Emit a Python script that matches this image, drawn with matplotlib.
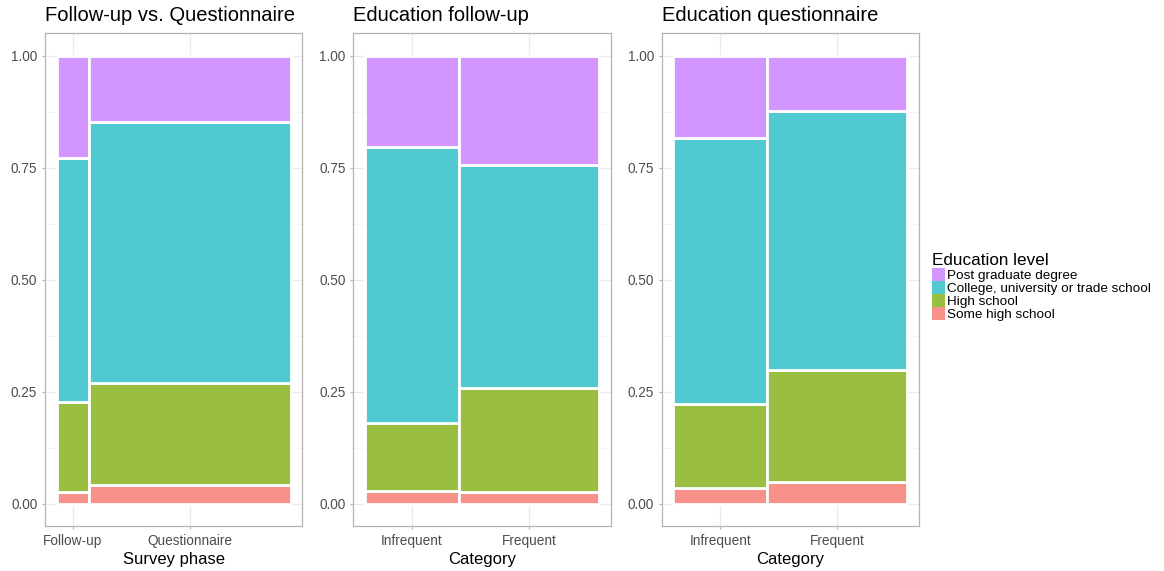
import numpy as np
import matplotlib
matplotlib.use("Agg")
import matplotlib.pyplot as plt
from matplotlib.patches import Rectangle

plt.rcParams["font.family"] = ["Liberation Sans", "DejaVu Sans"]

levels = ["Some high school", "High school",
          "College, university or trade school", "Post graduate degree"]
level_colors = ["#F8918A", "#9ABE40", "#50CAD0", "#D396FF"]

# panel 1: survey phase
phase_labels = ["Follow-up", "Questionnaire"]
phase_widths = [0.137, 0.863]
phase_props = [[0.027, 0.199, 0.546, 0.228],
               [0.042, 0.227, 0.584, 0.147]]

# panel 2: education at follow-up by category
fu_labels = ["Infrequent", "Frequent"]
fu_widths = [0.402, 0.598]
fu_props = [[0.028, 0.152, 0.617, 0.203],
            [0.026, 0.233, 0.498, 0.243]]

# panel 3: education at questionnaire by category
q_labels = ["Infrequent", "Frequent"]
q_widths = [0.40, 0.60]
q_props = [[0.034, 0.189, 0.594, 0.183],
           [0.048, 0.250, 0.578, 0.124]]

panels = [
    ("Follow-up vs. Questionnaire", "Survey phase", phase_labels, phase_widths, phase_props),
    ("Education follow-up", "Category", fu_labels, fu_widths, fu_props),
    ("Education questionnaire", "Category", q_labels, q_widths, q_props),
]

W, H = 1164, 571
fig = plt.figure(figsize=(W / 100, H / 100), dpi=100)
lefts = [45, 353.3, 661.7]
top, bottom_px = 33.3, 526.0
grid_c = "#EBEBEB"
border_c = "#B3B3B3"

for (title, xlabel, labels, widths, props), lx in zip(panels, lefts):
    ax = fig.add_axes([lx / W, (H - bottom_px) / H, 257.3 / W, (bottom_px - top) / H])
    x0 = np.concatenate([[0], np.cumsum(widths)[:-1]])
    centers = x0 + np.array(widths) / 2
    for j, (left, w) in enumerate(zip(x0, widths)):
        bottom = 0.0
        for k, p in enumerate(props[j]):
            ax.bar(left, p, width=w, bottom=bottom, align="edge",
                   color=level_colors[k], edgecolor="white",
                   linewidth=2.0, zorder=3)
            bottom += p
    ax.set_xlim(-0.05, 1.05)
    ax.set_ylim(-0.05, 1.05)
    ax.set_yticks([0, 0.25, 0.5, 0.75, 1.0])
    ax.set_yticklabels(["0.00", "0.25", "0.50", "0.75", "1.00"])
    ax.set_yticks([0.125, 0.375, 0.625, 0.875], minor=True)
    ax.set_xticks(centers)
    ax.set_xticklabels(labels)
    ax.grid(True, which="major", color=grid_c, lw=0.9, zorder=0)
    ax.grid(True, which="minor", axis="y", color="#F4F4F4", lw=0.6, zorder=0)
    ax.tick_params(which="major", direction="out", length=2.5, width=0.8,
                   color=border_c, labelcolor="#4D4D4D", labelsize=9.8, pad=3)
    ax.tick_params(which="minor", length=0)
    for s in ax.spines.values():
        s.set_color(border_c)
        s.set_linewidth(0.9)
    ax.set_xlabel(xlabel, fontsize=12, color="black", labelpad=3)
    ax.set_title(title, fontsize=14.5, loc="left", pad=9)

# legend drawn as figure-level keys and labels
fig.text(932 / W, (H - 265) / H, "Education level", fontsize=12.3,
         ha="left", va="baseline")
key_top, key_h, key_w = 268.3, 12.9, 13.3
for i, (lab, col) in enumerate(zip(levels[::-1], level_colors[::-1])):
    y0 = key_top + i * key_h
    fig.add_artist(Rectangle((932 / W, (H - y0 - key_h) / H), key_w / W, key_h / H,
                             transform=fig.transFigure, facecolor=col,
                             edgecolor="none"))
    fig.text(947 / W, (H - y0 - key_h / 2) / H, lab, fontsize=9.7,
             ha="left", va="center_baseline")

fig.savefig("out.png", dpi=100)
